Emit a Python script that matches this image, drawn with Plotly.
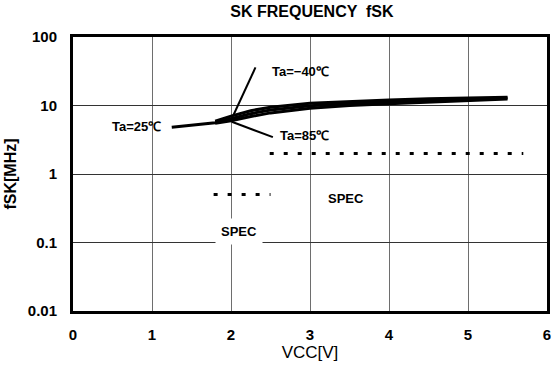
import math
import plotly.graph_objects as go

# Supply voltage VCC [V] and SK clock frequency fSK [MHz] per ambient temperature
vcc_25 = [1.25, 1.5, 1.8, 2.0, 2.25, 2.5, 3.0, 3.5, 4.0, 4.5, 5.0, 5.5]
fsk_25 = [4.8, 5.1, 5.6, 6.4, 7.6, 8.6, 9.9, 10.7, 11.3, 11.8, 12.3, 12.9]

vcc_m40 = [1.8, 2.0, 2.25, 2.5, 3.0, 3.5, 4.0, 4.5, 5.0, 5.5]
fsk_m40 = [5.9, 7.0, 8.4, 9.4, 10.8, 11.5, 12.0, 12.5, 12.9, 13.2]

vcc_85 = [1.8, 2.0, 2.25, 2.5, 3.0, 3.5, 4.0, 4.5, 5.0, 5.5]
fsk_85 = [5.5, 6.0, 6.9, 7.8, 9.1, 10.0, 10.6, 11.1, 11.6, 12.4]

# Specification limits (dotted)
spec_hi_vcc = [2.49, 5.7]
spec_hi_fsk = [2.0, 2.0]
spec_lo_vcc = [1.78, 2.5]
spec_lo_fsk = [0.5, 0.5]

# Leader lines from the temperature labels to the curves
lead_m40_vcc = [2.31, 2.03]
lead_m40_fsk = [36.0, 7.2]
lead_85_vcc = [2.01, 2.53]
lead_85_fsk = [5.8, 3.45]

x_ticks = [0, 1, 2, 3, 4, 5, 6]
y_ticks = [0.01, 0.1, 1, 10, 100]
y_tick_text = ["0.01", "0.1", "1", "10", "100"]

FONT = "Liberation Sans, Arial, sans-serif"

fig = go.Figure()

curve_style = dict(mode="lines", line=dict(color="black", width=3), showlegend=False,
                   hoverinfo="skip")
fig.add_trace(go.Scatter(x=vcc_85, y=fsk_85, **curve_style))
fig.add_trace(go.Scatter(x=vcc_m40, y=fsk_m40, **curve_style))
fig.add_trace(go.Scatter(x=vcc_25, y=fsk_25, **curve_style))

lead_style = dict(mode="lines", line=dict(color="black", width=2), showlegend=False,
                  hoverinfo="skip")
fig.add_trace(go.Scatter(x=lead_m40_vcc, y=lead_m40_fsk, **lead_style))
fig.add_trace(go.Scatter(x=lead_85_vcc, y=lead_85_fsk, **lead_style))

spec_style = dict(mode="lines", line=dict(color="black", width=3, dash="4px,10px"),
                  showlegend=False, hoverinfo="skip")
fig.add_trace(go.Scatter(x=spec_hi_vcc, y=spec_hi_fsk, **spec_style))
fig.add_trace(go.Scatter(x=spec_lo_vcc, y=spec_lo_fsk, **spec_style))

label_font = dict(family=FONT, size=13, color="black")


def label(text, x, y, xanchor="center", bg=None):
    fig.add_annotation(x=x, y=math.log10(y), xref="x", yref="y", text=text,
                       showarrow=False, xanchor=xanchor, yanchor="middle",
                       font=label_font, bgcolor=bg, borderpad=5)


label("<b>Ta=−40℃</b>", 2.44, 31, xanchor="left")
label("<b>Ta=25℃</b>", 1.19, 5.0, xanchor="right")
label("<b>Ta=85℃</b>", 2.55, 3.7, xanchor="left")
label("<b>SPEC</b>", 3.45, 0.44)
label("<b>SPEC</b>", 2.1, 0.145, bg="white")

fig.update_layout(
    width=557, height=371,
    margin=dict(l=73, r=6, t=37, b=60),
    paper_bgcolor="white", plot_bgcolor="white",
    title=dict(text="<b>SK FREQUENCY  fSK</b>", x=0.56, xanchor="center",
               y=0.968, yanchor="middle",
               font=dict(family=FONT, size=16, color="black")),
    font=dict(family=FONT, color="black"),
)

fig.update_xaxes(
    range=[0, 6], tickvals=x_ticks, ticks="", showgrid=True,
    gridcolor="#6e6e6e", gridwidth=1.2, zeroline=False,
    showline=True, linecolor="black", linewidth=3, mirror=True,
    tickfont=dict(family=FONT, size=15, weight="bold"), ticklabelstandoff=8,
    title=dict(text="VCC[V]", font=dict(family=FONT, size=17), standoff=2),
)
fig.update_yaxes(
    type="log", range=[-2, 2], tickvals=y_ticks, ticktext=y_tick_text, ticks="",
    showgrid=True, gridcolor="#333333", gridwidth=1.2, zeroline=False,
    showline=True, linecolor="black", linewidth=3, mirror=True,
    tickfont=dict(family=FONT, size=15, weight="bold"), ticklabelstandoff=10,
    title=dict(text="fSK[MHz]", font=dict(family=FONT, size=16, weight="bold"),
               standoff=8),
)

fig.write_html("out.html")
